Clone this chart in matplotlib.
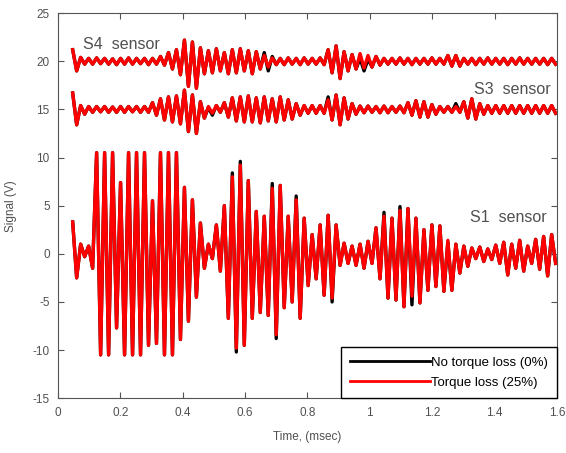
import numpy as np
import matplotlib
matplotlib.use("Agg")
import matplotlib.pyplot as plt

plt.rcParams["font.family"] = ["Liberation Sans", "DejaVu Sans"]
plt.rcParams["axes.unicode_minus"] = False

# peak values (V), one top/bottom pair per oscillation cycle
S1_TORQUE = [
    3.3, -2.5, 1.0, -0.3, 0.8, -1.5, 10.5, -10.5, 10.5, -10.5,
    10.5, -7.7, 7.4, -10.5, 10.5, -10.5, 10.5, -10.5, 10.5, -9.5,
    5.5, -9.3, 10.5, -10.5, 10.5, -10.5, 10.5, -8.9, 6.9, -7.0,
    5.6, -4.5, 3.2, -1.5, 1.0, -0.5, 3.0, -1.8, 5.0, -6.7,
    8.0, -9.8, 9.2, -9.5, 7.6, -6.7, 4.4, -6.1, 3.9, -6.4,
    6.8, -8.4, 7.1, -5.6, 3.9, -5.0, 5.6, -6.7, 3.7, -3.3,
    2.0, -2.6, 3.0, -4.3, 4.0, -4.6, 3.0, -1.2, 1.1, -1.0,
    0.8, -1.2, 1.0, -1.5, 1.3, -1.0, 2.7, -2.6, 3.9, -4.6,
    3.7, -4.8, 4.5, -5.5, 4.7, -4.4, 3.7, -5.1, 2.5, -3.8,
    3.0, -3.4, 2.9, -3.9, 1.4, -3.8, 1.0, -2.0, 0.8, -1.3,
    0.6, -0.5, 0.7, -0.8, 0.5, -0.6, 0.9, -1.0, 1.2, -2.2,
    1.0, -1.5, 1.4, -1.8, 0.8, -1.0, 1.5, -1.6, 1.8, -2.3,
    2.0, -1.0,
]
S1_NO_LOSS_DIFF = {40: 8.4, 41: -10.2, 42: 9.6, 50: 7.3, 51: -8.8,
                   56: 6.0, 65: -5.0, 78: 4.3, 82: 4.9, 85: -5.3, 94: 1.2}

# S4 and S3: deviation around their offsets
S4_TORQUE = [
    1.2, -1.0, 0.4, -0.3, 0.3, -0.3, 0.35, -0.25, 0.3, -0.3,
    0.25, -0.35, 0.3, -0.3, 0.35, -0.3, 0.3, -0.25, 0.3, -0.35,
    0.3, -0.3, 0.5, -0.4, 0.9, -0.8, 1.2, -1.4, 2.2, -2.6,
    2.0, -2.8, 1.4, -1.3, 1.1, -1.2, 1.3, -1.0, 0.9, -1.3,
    1.2, -1.2, 1.3, -1.0, 1.1, -1.3, 1.0, -0.8, 0.6, -0.6,
    0.35, -0.35, 0.3, -0.35, 0.35, -0.3, 0.3, -0.35, 0.35, -0.3,
    0.3, -0.3, 0.35, -0.35, 1.2, -1.2, 1.6, -1.8, 1.0, -1.0,
    0.7, -0.8, 0.8, -0.7, 0.6, -0.6, 0.5, -0.4, 0.3, -0.3,
    0.3, -0.3, 0.35, -0.3, 0.3, -0.35, 0.3, -0.3, 0.3, -0.3,
    0.35, -0.3, 0.3, -0.3, 0.6, -0.5, 0.6, -0.5, 0.3, -0.3,
    0.3, -0.35, 0.3, -0.3, 0.35, -0.3, 0.3, -0.3, 0.3, -0.35,
    0.3, -0.3, 0.35, -0.3, 0.3, -0.3, 0.3, -0.3, 0.3, -0.35,
    0.3, -0.3,
]
S4_NO_LOSS_DIFF = {48: 0.9, 49: -1.0, 50: 0.5, 72: 0.3, 73: -1.0, 74: 0.2}

S3_TORQUE = [
    1.7, -1.6, 0.4, -0.5, 0.3, -0.3, 0.3, -0.25, 0.3, -0.3,
    0.25, -0.3, 0.3, -0.3, 0.3, -0.25, 0.3, -0.3, 0.3, -0.3,
    0.7, -0.6, 1.1, -1.1, 1.3, -1.3, 1.4, -1.5, 2.0, -2.3,
    1.5, -2.5, 0.8, -0.9, 0.3, -0.4, 0.4, -0.3, 0.7, -0.8,
    1.2, -1.2, 1.3, -1.3, 1.4, -1.3, 1.2, -1.4, 1.3, -1.2,
    1.1, -1.3, 1.3, -1.1, 1.0, -1.0, 0.6, -0.6, 0.4, -0.4,
    0.4, -0.4, 0.4, -0.4, 1.0, -1.1, 1.5, -1.6, 1.2, -1.0,
    0.6, -0.5, 0.35, -0.35, 0.35, -0.3, 0.3, -0.35, 0.35, -0.35,
    0.3, -0.3, 0.35, -0.35, 0.7, -0.6, 0.9, -0.8, 0.8, -0.8,
    0.5, -0.5, 0.3, -0.3, 0.3, -0.3, 0.3, -0.3, 0.8, -0.9,
    1.1, -1.0, 0.6, -0.5, 0.4, -0.4, 0.4, -0.4, 0.4, -0.4,
    0.4, -0.4, 0.4, -0.4, 0.4, -0.4, 0.4, -0.4, 0.4, -0.4,
    0.4, -0.4,
]
S3_NO_LOSS_DIFF = {34: 0.2, 35: -0.6, 64: 1.3, 96: 0.6}

OFFSETS = {"S1": 0.0, "S3": 15.0, "S4": 20.0}
T_START = 0.047
HALF_PERIOD = 0.0128

X_TICKS = [0, 0.2, 0.4, 0.6, 0.8, 1, 1.2, 1.4, 1.6]
X_TICK_LABELS = ["0", "0.2", "0.4", "0.6", "0.8", "1", "1.2", "1.4", "1.6"]
Y_TICKS = [-15, -10, -5, 0, 5, 10, 15, 20, 25]


def build(peaks, diff, offset):
    t = T_START + HALF_PERIOD * np.arange(len(peaks))
    red = np.array(peaks) + offset
    black = red.copy()
    for i, v in diff.items():
        black[i] = v + offset
    return t, black, red


fig = plt.figure(figsize=(5.66, 4.53), dpi=100)
ax = fig.add_axes([0.1025, 0.121, 0.8815, 0.85])

series = [("S1", S1_TORQUE, S1_NO_LOSS_DIFF),
          ("S3", S3_TORQUE, S3_NO_LOSS_DIFF),
          ("S4", S4_TORQUE, S4_NO_LOSS_DIFF)]
for name, peaks, diff in series:
    t, black, red = build(peaks, diff, OFFSETS[name])
    lab = name == "S1"
    ax.plot(t, black, color="black", lw=2.4,
            label="No torque loss (0%)" if lab else None)
    ax.plot(t, red, color="#ff0000", lw=2.4,
            label="Torque loss (25%)" if lab else None)

txt = dict(fontsize=11.5, color="#505050")
ax.text(0.08, 21.3, "S4  sensor", **txt)
ax.text(1.335, 16.6, "S3  sensor", **txt)
ax.text(1.32, 3.3, "S1  sensor", **txt)

ax.set_xlim(0, 1.6)
ax.set_ylim(-15, 25)
ax.set_xticks(X_TICKS)
ax.set_xticklabels(X_TICK_LABELS)
ax.set_yticks(Y_TICKS)
ax.tick_params(direction="in", length=4, top=True, right=True, pad=6,
               labelsize=8.5, labelcolor="#505050", color="#555555")
for s in ax.spines.values():
    s.set_color("#555555")
ax.set_xlabel("Time, (msec)", fontsize=8.5, color="#505050", labelpad=9)
ax.set_ylabel("Signal (V)", fontsize=8.5, color="#505050", labelpad=11)

leg = ax.legend(loc="lower right", borderaxespad=0, fontsize=9.5,
                handlelength=6.0, handletextpad=0.1, fancybox=False,
                framealpha=1, edgecolor="black", borderpad=0.7,
                labelspacing=0.6)
leg.get_frame().set_linewidth(1.0)
for line in leg.get_lines():
    line.set_linewidth(2.0)

fig.savefig("out.png", dpi=100)
